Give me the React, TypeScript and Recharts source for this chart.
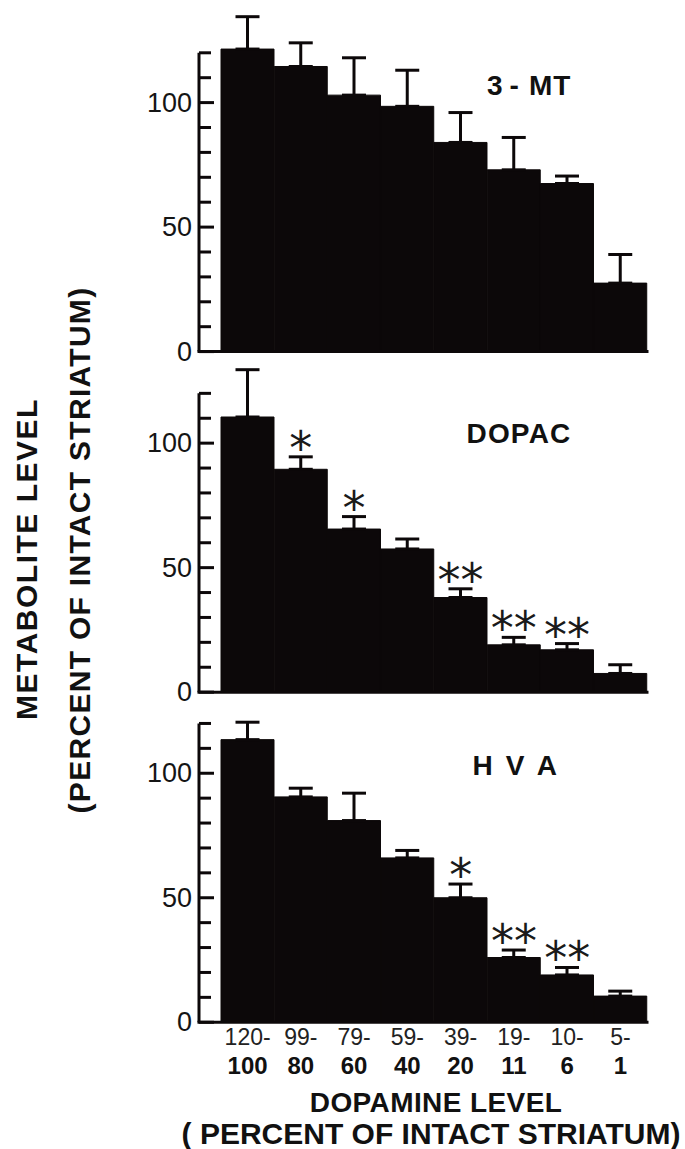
import { ComposedChart, Bar, ErrorBar, Line, LabelList, XAxis, YAxis } from "recharts";

const INK = "#0c0809";
const FONT = "'Liberation Sans', Arial, sans-serif";

// dopamine level groups (percent of intact striatum), two-line tick labels
const rangeUpper = ["120-", "99-", "79-", "59-", "39-", "19-", "10-", "5-"];
const rangeLower = ["100", "80", "60", "40", "20", "11", "6", "1"];

const mtMean = [121.5, 114.5, 103, 98.5, 84, 73, 67.5, 27.5];
const mtSem = [13, 9.5, 15, 14.5, 12, 13, 3, 11.5];

const dopacMean = [110.5, 89.5, 65.5, 57.5, 38, 19, 17, 7.5];
const dopacSem = [19, 5, 5, 4, 3.5, 3, 2.5, 3.5];
const dopacStars = ["", "*", "*", "", "**", "**", "**", ""];

const hvaMean = [113.5, 90.5, 81, 66, 50, 26, 19, 10.5];
const hvaSem = [7, 3.5, 11, 3, 5.5, 3, 3, 2];
const hvaStars = ["", "", "", "", "*", "**", "**", ""];

const yTicks = [0, 10, 20, 30, 40, 50, 60, 70, 80, 90, 100, 110, 120];
const yLabelled = [0, 50, 100];

const PX = 2.49; // pixels per percent unit
const M_TOP = 4;

const YTick = (props: any) => {
  const { x, y, payload } = props;
  const v = payload.value;
  const major = yLabelled.includes(v);
  return (
    <g>
      <line x1={x} x2={x + (major ? 15 : 12)} y1={y} y2={y} stroke={INK} strokeWidth={3} />
      {major && (
        <text
          x={x - 7}
          y={y}
          textAnchor="end"
          dominantBaseline="central"
          fontSize={27}
          fontFamily={FONT}
          fill="#151515"
        >
          {v}
        </text>
      )}
    </g>
  );
};

const XTick = (props: any) => {
  const { x, y, index } = props;
  return (
    <g>
      <text x={x} y={y + 15} textAnchor="middle" dominantBaseline="central" fontSize={23} fontFamily={FONT} fill="#222">
        {rangeUpper[index]}
      </text>
      <text x={x} y={y + 43} textAnchor="middle" dominantBaseline="central" fontSize={24} fontWeight="bold" fontFamily={FONT} fill="#111">
        {rangeLower[index]}
      </text>
    </g>
  );
};

const StarLabel = (props: any) => {
  const { x, y, value } = props;
  if (!value || y == null) return null;
  return (
    <text x={x} y={y + 7} textAnchor="middle" fontSize={46} fontFamily="'DejaVu Sans', sans-serif" fill="#1a1a1a">
      {value}
    </text>
  );
};

interface PanelProps {
  mean: number[];
  sem: number[];
  stars?: string[];
  zeroY: number;
  top: number;
  showX?: boolean;
}

function Panel({ mean, sem, stars, zeroY, top, showX }: PanelProps) {
  const data = rangeUpper.map((r, i) => ({
    range: r,
    mean: mean[i],
    sem: [0, sem[i]],
    star: stars ? stars[i] : "",
    starAt: stars && stars[i] ? mean[i] + sem[i] : null,
  }));
  const plotH = top * PX;
  const xH = showX ? 72 : 20;
  const gap = (top - 120) * PX;

  return (
    <div style={{ position: "absolute", left: 0, top: zeroY - plotH - M_TOP }}>
      <ComposedChart
        width={685}
        height={M_TOP + plotH + xH}
        data={data}
        margin={{ top: M_TOP, right: 38, bottom: 0, left: 0 }}
        barCategoryGap={0}
      >
        <XAxis
          dataKey="range"
          padding={{ left: 22, right: 0 }}
          axisLine={{ stroke: INK, strokeWidth: 3, strokeLinecap: "square" }}
          tickLine={false}
          tickSize={0}
          tickMargin={0}
          height={xH}
          interval={0}
          tick={showX ? <XTick /> : false}
        />
        <YAxis
          type="number"
          domain={[0, top]}
          ticks={yTicks}
          interval={0}
          width={199}
          tickSize={0}
          tickMargin={0}
          tickLine={false}
          axisLine={{ stroke: INK, strokeWidth: 3, strokeDasharray: `0 ${gap} ${120 * PX + 2} 2000` }}
          tick={<YTick />}
        />
        <Bar dataKey="mean" fill={INK} stroke={INK} strokeWidth={1} isAnimationActive={false}>
          <ErrorBar dataKey="sem" width={12} strokeWidth={3} stroke={INK} direction="y" />
        </Bar>
        {stars && (
          <Line dataKey="starAt" stroke="none" dot={false} activeDot={false} isAnimationActive={false}>
            <LabelList dataKey="star" content={<StarLabel />} />
          </Line>
        )}
      </ComposedChart>
    </div>
  );
}

export default function App() {
  const bold = { fontFamily: FONT, fontWeight: "bold" as const, fill: "#111" };
  return (
    <div style={{ position: "absolute", left: 0, top: 0, width: 685, height: 1149, background: "#fff" }}>
      <Panel mean={mtMean} sem={mtSem} zeroY={352} top={140} />
      <Panel mean={dopacMean} sem={dopacSem} stars={dopacStars} zeroY={692} top={135} />
      <Panel mean={hvaMean} sem={hvaSem} stars={hvaStars} zeroY={1022} top={125} showX />
      <svg width={685} height={1149} style={{ position: "absolute", left: 0, top: 0, pointerEvents: "none" }}>
        <text x={487} y={85} dominantBaseline="central" fontSize={28} {...bold}>
          <tspan>3</tspan>
          <tspan dx={7}>-</tspan>
          <tspan dx={10} letterSpacing={1}>MT</tspan>
        </text>
        <text x={519} y={433} textAnchor="middle" dominantBaseline="central" fontSize={28} letterSpacing={1.2} {...bold}>
          DOPAC
        </text>
        <text x={516} y={765} textAnchor="middle" dominantBaseline="central" fontSize={28} letterSpacing={2.7} {...bold}>
          H V A
        </text>
        <text
          transform="translate(26 559) rotate(-90)"
          textAnchor="middle"
          dominantBaseline="central"
          fontSize={30}
          letterSpacing={1.5}
          {...bold}
        >
          METABOLITE LEVEL
        </text>
        <text
          transform="translate(79 550) rotate(-90)"
          textAnchor="middle"
          dominantBaseline="central"
          fontSize={30}
          letterSpacing={1.3}
          {...bold}
        >
          (PERCENT OF INTACT STRIATUM)
        </text>
        <text x={436} y={1102} textAnchor="middle" dominantBaseline="central" fontSize={28} letterSpacing={0.4} {...bold}>
          DOPAMINE LEVEL
        </text>
        <text x={431} y={1133} textAnchor="middle" dominantBaseline="central" fontSize={30} {...bold}>
          ( PERCENT OF INTACT STRIATUM)
        </text>
      </svg>
    </div>
  );
}
